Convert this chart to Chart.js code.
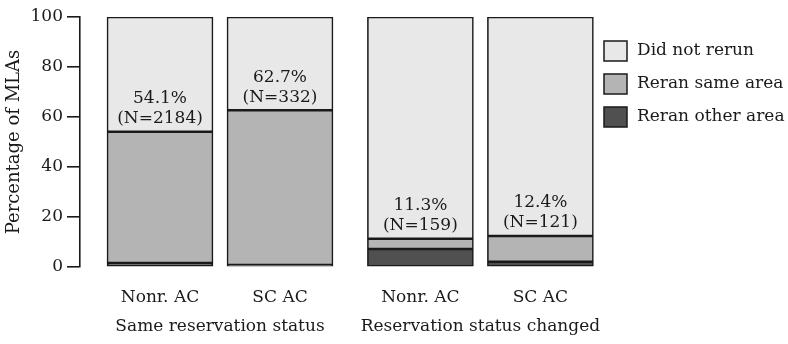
<!DOCTYPE html>
<html>
<head>
<meta charset="utf-8">
<script src="https://cdn.jsdelivr.net/npm/chart.js@4.4.1/dist/chart.umd.min.js"></script>
<style>
  html, body { margin: 0; padding: 0; background: #ffffff; }
  #wrap { width: 788px; height: 344px; position: relative; }
</style>
</head>
<body>
<div id="wrap"><canvas id="c" width="788" height="344"></canvas></div>
<script>
// ---- data ----
const categories = ['Nonr. AC', 'SC AC', 'Nonr. AC', 'SC AC'];
const groupOf = [0, 0, 1, 1];
const groupNames = ['Same reservation status', 'Reservation status changed'];
const seriesNames = ['Reran other area', 'Reran same area', 'Did not rerun'];
const reranOther = [1.6, 0.8, 7.2, 2.1];
const reranSame = [52.5, 61.9, 4.1, 10.3];
const didNotRerun = [45.9, 37.3, 88.7, 87.6];
const pctLabels = ['54.1%', '62.7%', '11.3%', '12.4%'];
const nLabels = ['(N=2184)', '(N=332)', '(N=159)', '(N=121)'];
const yTicks = [0, 20, 40, 60, 80, 100];
const yTitle = 'Percentage of MLAs';

// ---- style / layout ----
const FONT = 'DejaVu Serif';
const INK = '#1a1a1a';
const colors = ['#505050', '#b4b4b4', '#e8e8e8'];
const groupGap = 0.17;
const xPos = categories.map((c, i) => i + groupOf[i] * groupGap);

function mk(vals) { return vals.map((v, i) => ({ x: xPos[i], y: v })); }

const datasets = [reranOther, reranSame, didNotRerun].map((vals, k) => ({
  label: seriesNames[k],
  data: mk(vals),
  backgroundColor: colors[k],
  borderColor: INK,
  borderWidth: 1.6,
  borderSkipped: false,
  barThickness: 106
}));

const bgPlugin = {
  id: 'bg',
  beforeDraw(chart) {
    const ctx = chart.ctx;
    ctx.save();
    ctx.fillStyle = '#ffffff';
    ctx.fillRect(0, 0, chart.width, chart.height);
    ctx.restore();
  }
};

const annotPlugin = {
  id: 'annot',
  afterDatasetsDraw(chart) {
    const ctx = chart.ctx;
    const meta = chart.getDatasetMeta(1);
    ctx.save();
    ctx.font = '17px "' + FONT + '"';
    ctx.fillStyle = INK;
    ctx.textAlign = 'center';
    ctx.textBaseline = 'middle';
    meta.data.forEach((el, i) => {
      const top = el.y;
      ctx.fillText(nLabels[i], el.x, top - 13);
      ctx.fillText(pctLabels[i], el.x, top - 33);
    });
    // group labels
    const xs = chart.scales.x;
    groupNames.forEach((g, gi) => {
      const idx = xPos.filter((v, i) => groupOf[i] === gi);
      const cx = (xs.getPixelForValue(Math.min(...idx)) + xs.getPixelForValue(Math.max(...idx))) / 2;
      ctx.fillText(g, cx, chart.chartArea.bottom + 60);
    });
    // legend
    const lx = chart.chartArea.right + 4;
    let ly = chart.chartArea.top + 34;
    ctx.textAlign = 'left';
    for (let k = chart.data.datasets.length - 1; k >= 0; k--) {
      const ds = chart.data.datasets[k];
      ctx.fillStyle = ds.backgroundColor;
      ctx.fillRect(lx, ly - 10, 23, 20);
      ctx.strokeStyle = INK;
      ctx.lineWidth = 1.5;
      ctx.strokeRect(lx, ly - 10, 23, 20);
      ctx.fillStyle = INK;
      ctx.fillText(ds.label, lx + 33, ly);
      ly += 33;
    }
    ctx.restore();
  }
};

new Chart(document.getElementById('c'), {
  type: 'bar',
  data: { datasets },
  options: {
    responsive: false,
    animation: false,
    layout: { padding: { top: 17, right: 188, bottom: 0, left: 0 } },
    plugins: { legend: { display: false }, tooltip: { enabled: false } },
    scales: {
      x: {
        type: 'linear',
        stacked: true,
        offset: false,
        bounds: 'data',
        min: -0.6667,
        max: 3.6667,
        afterBuildTicks(scale) { scale.ticks = xPos.map(v => ({ value: v })); },
        afterFit(scale) { scale.height = 77; },
        grid: { display: false, drawTicks: false, offset: false },
        border: { display: false },
        ticks: {
          autoSkip: false,
          maxRotation: 0,
          padding: 20,
          color: INK,
          font: { family: FONT, size: 17 },
          callback(value) {
            const i = xPos.findIndex(v => Math.abs(v - value) < 1e-6);
            return i >= 0 ? categories[i] : '';
          }
        }
      },
      y: {
        stacked: true,
        min: 0,
        max: 100,
        afterBuildTicks(scale) { scale.ticks = yTicks.map(v => ({ value: v })); },
        afterFit(scale) { scale.width = 80; },
        grid: { drawOnChartArea: false, drawTicks: true, tickLength: 13, color: INK, lineWidth: 1.6 },
        border: { display: true, color: INK, width: 1.6 },
        ticks: { padding: 4, color: INK, font: { family: FONT, size: 17 } },
        title: {
          display: true,
          text: yTitle,
          color: INK,
          font: { family: FONT, size: 18 },
          padding: { top: 4, bottom: 0 }
        }
      }
    }
  },
  plugins: [bgPlugin, annotPlugin]
});
</script>
</body>
</html>
